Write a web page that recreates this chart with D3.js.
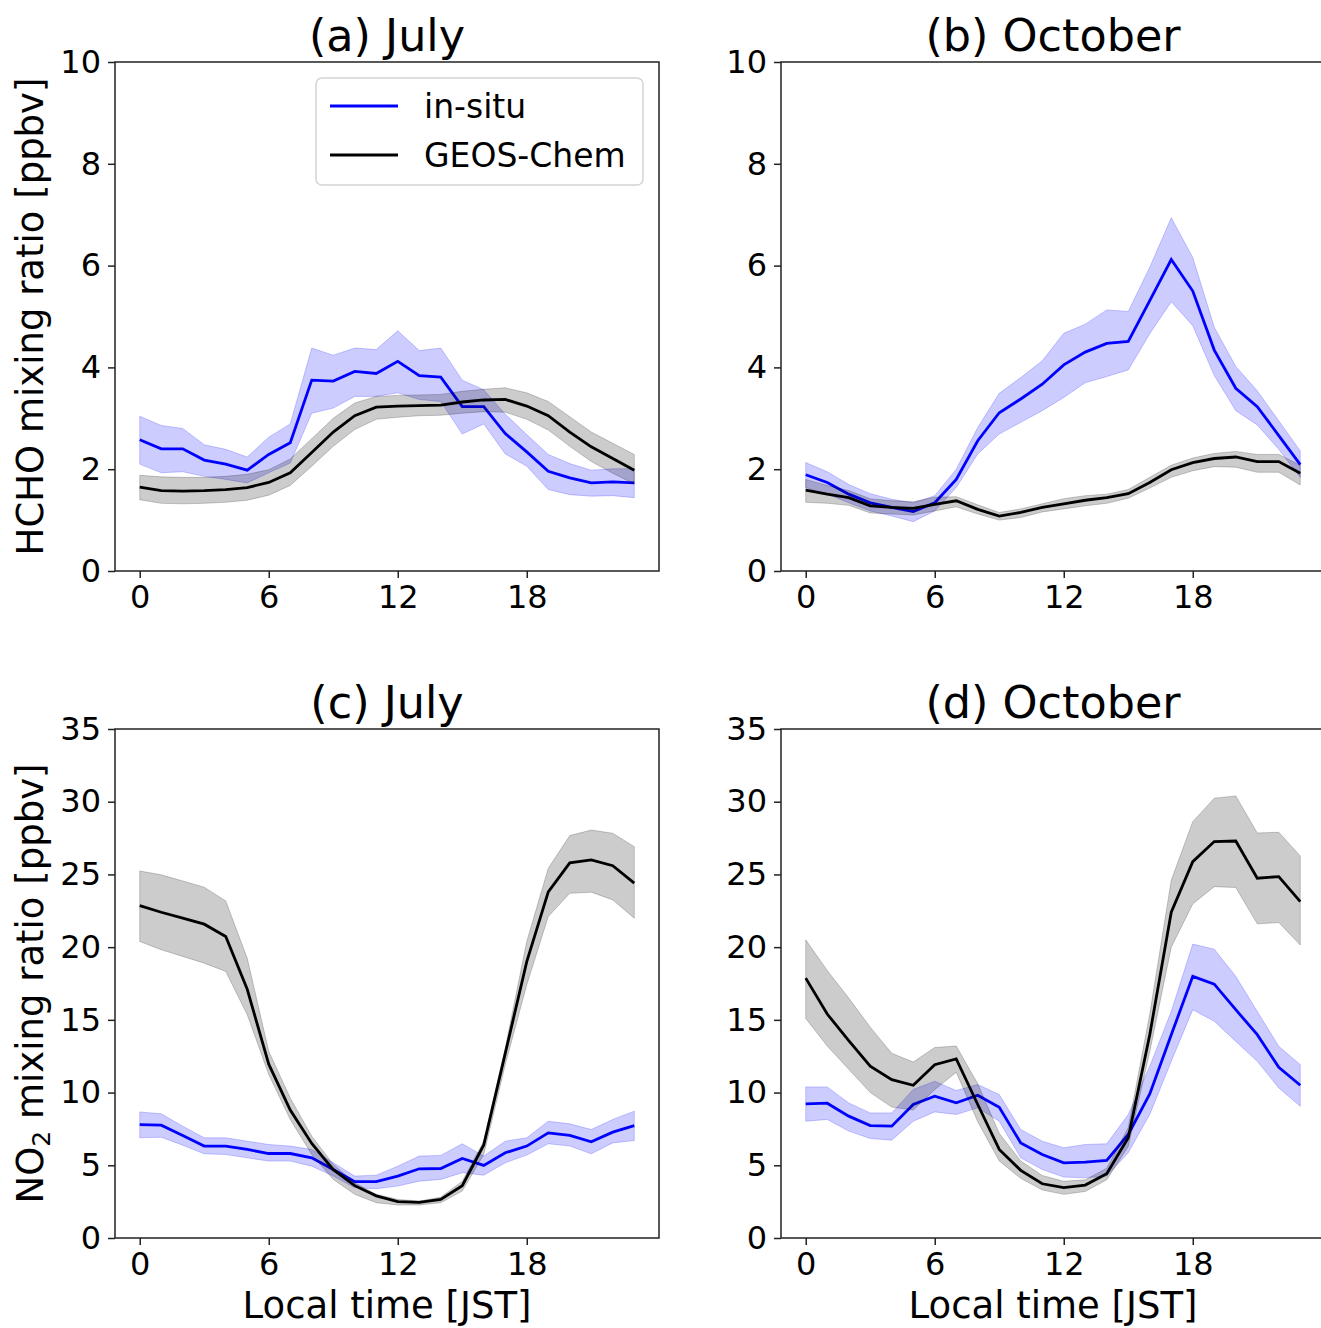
<!DOCTYPE html>
<html>
<head>
<meta charset="utf-8">
<script src="https://cdn.jsdelivr.net/npm/d3@7"></script>
<style>
body { margin: 0; background: white; }
svg { font-family: "DejaVu Sans", sans-serif; }
</style>
</head>
<body>
<div id="staticBody"></div>
<script>
var hours = d3.range(0, 24)

// (a) HCHO July
var aInsitu   = [2.58,2.40,2.40,2.18,2.10,1.98,2.29,2.52,3.75,3.73,3.92,3.88,4.12,3.84,3.81,3.23,3.23,2.70,2.34,1.96,1.83,1.73,1.75,1.73]
var aInsituHi = [3.04,2.86,2.80,2.48,2.39,2.24,2.63,2.89,4.38,4.24,4.38,4.35,4.72,4.33,4.38,3.75,3.56,3.08,2.68,2.29,2.11,1.98,2.01,2.01]
var aInsituLo = [2.10,1.93,1.95,1.86,1.80,1.73,1.93,2.12,3.10,3.20,3.43,3.43,3.50,3.37,3.33,2.69,2.89,2.30,2.06,1.60,1.50,1.47,1.48,1.44]
var aGeos     = [1.65,1.58,1.57,1.58,1.60,1.64,1.74,1.93,2.33,2.73,3.05,3.22,3.24,3.25,3.26,3.32,3.36,3.37,3.24,3.05,2.73,2.44,2.21,1.98]
var aGeosHi   = [1.88,1.85,1.84,1.84,1.86,1.90,1.99,2.20,2.60,3.00,3.30,3.43,3.45,3.46,3.47,3.53,3.57,3.60,3.50,3.33,3.03,2.73,2.51,2.29]
var aGeosLo   = [1.40,1.33,1.32,1.33,1.35,1.39,1.49,1.68,2.06,2.45,2.78,2.98,3.02,3.05,3.06,3.10,3.13,3.12,2.98,2.77,2.45,2.15,1.92,1.71]

// (b) HCHO October
var bInsitu   = [1.89,1.74,1.51,1.34,1.25,1.17,1.34,1.80,2.56,3.11,3.38,3.67,4.05,4.30,4.47,4.51,5.31,6.12,5.50,4.34,3.59,3.23,2.66,2.09]
var bInsituHi = [2.13,1.95,1.70,1.52,1.41,1.34,1.48,2.00,2.82,3.49,3.80,4.13,4.67,4.85,5.13,5.10,5.97,6.94,6.16,4.79,4.02,3.54,2.95,2.36]
var bInsituLo = [1.64,1.51,1.34,1.18,1.08,0.97,1.18,1.64,2.30,2.69,2.92,3.15,3.41,3.70,3.82,3.95,4.66,5.29,4.82,3.84,3.15,2.87,2.39,1.84]
var bGeos     = [1.59,1.51,1.44,1.28,1.25,1.23,1.31,1.38,1.21,1.08,1.15,1.25,1.32,1.39,1.44,1.52,1.74,1.99,2.13,2.21,2.24,2.15,2.15,1.92]
var bGeosHi   = [1.80,1.68,1.58,1.42,1.38,1.36,1.45,1.46,1.30,1.15,1.22,1.32,1.42,1.48,1.51,1.60,1.84,2.08,2.22,2.31,2.35,2.29,2.29,2.08]
var bGeosLo   = [1.35,1.33,1.29,1.14,1.12,1.10,1.18,1.26,1.12,1.00,1.05,1.16,1.22,1.28,1.33,1.43,1.63,1.84,1.97,2.05,2.04,1.94,1.94,1.69]

// (c) NO2 July
var cInsitu   = [7.80,7.76,7.05,6.32,6.32,6.09,5.81,5.81,5.51,4.71,3.87,3.87,4.26,4.76,4.78,5.47,4.99,5.86,6.32,7.23,7.05,6.61,7.28,7.73]
var cInsituHi = [8.67,8.54,7.69,6.89,6.89,6.66,6.43,6.32,6.09,5.17,4.26,4.32,4.94,5.63,5.68,6.48,5.63,6.66,6.89,8.03,7.85,7.46,8.15,8.72]
var cInsituLo = [6.89,6.93,6.38,5.79,5.74,5.51,5.29,5.29,4.94,4.26,3.46,3.39,3.57,3.91,4.03,4.49,4.32,5.17,5.70,6.48,6.32,5.79,6.54,6.70]
var cGeos     = [22.86,22.40,21.99,21.58,20.73,17.10,11.95,8.80,6.50,4.70,3.60,2.90,2.50,2.45,2.65,3.60,6.40,12.70,19.00,23.80,25.80,26.00,25.60,24.40]
var cGeosHi   = [25.24,24.97,24.55,24.12,23.18,19.24,12.84,9.63,7.00,5.06,3.80,3.00,2.65,2.54,2.81,3.90,6.66,13.07,20.39,25.42,27.67,28.05,27.83,26.91]
var cGeosLo   = [20.39,19.82,19.36,18.90,18.33,15.35,11.24,8.15,5.74,4.03,3.00,2.43,2.27,2.27,2.43,3.23,5.74,11.92,17.41,22.10,23.70,23.78,23.25,21.99]

// (d) NO2 October
var dInsitu   = [9.22,9.27,8.38,7.73,7.69,9.18,9.75,9.29,9.82,8.99,6.54,5.74,5.17,5.22,5.33,7.12,9.91,13.98,17.99,17.46,15.70,13.98,11.74,10.50]
var dInsituHi = [10.39,10.39,9.29,8.60,8.60,10.21,10.78,10.14,10.55,9.86,7.46,6.66,6.20,6.43,6.48,8.49,11.81,15.58,20.21,19.86,17.99,15.58,13.18,11.92]
var dInsituLo = [8.03,8.15,7.35,6.84,6.73,8.03,8.67,8.49,8.95,8.03,5.51,4.71,4.19,4.14,4.26,5.86,8.49,12.15,15.70,14.90,13.52,12.15,10.32,9.06]
var dGeos     = [17.87,15.40,13.57,11.81,10.89,10.50,11.92,12.31,9.18,6.09,4.65,3.73,3.46,3.64,4.42,6.89,13.98,22.40,25.88,27.26,27.30,24.74,24.85,23.13]
var dGeosHi   = [20.50,18.40,16.50,14.50,12.70,12.10,13.10,13.20,10.60,7.20,5.30,4.30,3.90,4.00,4.80,7.60,15.40,24.60,28.63,30.24,30.40,27.85,27.90,26.27]
var dGeosLo   = [15.10,13.20,11.60,10.00,9.00,8.80,10.20,11.40,8.00,5.30,4.10,3.30,3.00,3.20,4.00,6.30,12.80,20.00,22.97,24.16,24.10,21.60,21.69,20.15]

var xTicks = [0, 6, 12, 18]
var hchoTicks = [0, 2, 4, 6, 8, 10]
var no2Ticks = [0, 5, 10, 15, 20, 25, 30, 35]
var seriesNames = ["in-situ", "GEOS-Chem"]

var width = 1321, height = 1328
var svg = d3.select('#staticBody').append('svg')
    .attr('width', width)
    .attr('height', height)

svg.append('rect').attr('width', width).attr('height', height).attr('fill', 'white')

var panels = [
    { title: "(a) July",    left: 115, top: 62,  ymax: 10, ticks: hchoTicks, ins: aInsitu, insHi: aInsituHi, insLo: aInsituLo, geo: aGeos, geoHi: aGeosHi, geoLo: aGeosLo, legend: true },
    { title: "(b) October", left: 781, top: 62,  ymax: 10, ticks: hchoTicks, ins: bInsitu, insHi: bInsituHi, insLo: bInsituLo, geo: bGeos, geoHi: bGeosHi, geoLo: bGeosLo },
    { title: "(c) July",    left: 115, top: 729, ymax: 35, ticks: no2Ticks,  ins: cInsitu, insHi: cInsituHi, insLo: cInsituLo, geo: cGeos, geoHi: cGeosHi, geoLo: cGeosLo, xlabel: true },
    { title: "(d) October", left: 781, top: 729, ymax: 35, ticks: no2Ticks,  ins: dInsitu, insHi: dInsituHi, insLo: dInsituLo, geo: dGeos, geoHi: dGeosHi, geoLo: dGeosLo, xlabel: true }
]

var pw = 544, ph = 509

panels.forEach(function(p) {
    var g = svg.append('g').attr('transform', 'translate(' + p.left + ',' + p.top + ')')

    var x = d3.scaleLinear().domain([-1.15, 24.15]).range([0, pw])
    var y = d3.scaleLinear().domain([0, p.ymax]).range([ph, 0])

    var band = function(hi, lo) {
        return d3.area()
            .x(function(d, i) { return x(hours[i]) })
            .y0(function(d, i) { return y(lo[i]) })
            .y1(function(d, i) { return y(hi[i]) })(hours)
    }
    var line = function(vals) {
        return d3.line()
            .x(function(d, i) { return x(hours[i]) })
            .y(function(d) { return y(d) })(vals)
    }

    var plot = g.append('g')

    plot.append('path')
        .attr('d', band(p.insHi, p.insLo))
        .attr('fill', 'blue').attr('fill-opacity', 0.2)
        .attr('stroke', 'blue').attr('stroke-opacity', 0.2).attr('stroke-width', 1)
    plot.append('path')
        .attr('d', line(p.ins))
        .attr('fill', 'none').attr('stroke', 'blue').attr('stroke-width', 2.8)
    plot.append('path')
        .attr('d', band(p.geoHi, p.geoLo))
        .attr('fill', 'black').attr('fill-opacity', 0.2)
        .attr('stroke', 'black').attr('stroke-opacity', 0.2).attr('stroke-width', 1)
    plot.append('path')
        .attr('d', line(p.geo))
        .attr('fill', 'none').attr('stroke', 'black').attr('stroke-width', 2.8)

    // axes
    var yAxis = d3.axisLeft(y).tickValues(p.ticks).tickSize(7).tickPadding(7)
    var xAxis = d3.axisBottom(x).tickValues(xTicks).tickSize(7).tickPadding(7)

    var ya = g.append('g').call(yAxis)
    var xa = g.append('g').attr('transform', 'translate(0,' + ph + ')').call(xAxis)
    ;[ya, xa].forEach(function(a) {
        a.select('.domain').remove()
        a.selectAll('.tick line').attr('stroke', '#222').attr('stroke-width', 1.5)
        a.selectAll('.tick text').attr('fill', 'black').style('font-size', '32px')
            .style('font-family', '"DejaVu Sans", sans-serif')
    })

    g.append('rect')
        .attr('width', pw).attr('height', ph)
        .attr('fill', 'none').attr('stroke', '#222').attr('stroke-width', 1.5)

    g.append('text')
        .attr('x', pw / 2).attr('y', -11)
        .attr('text-anchor', 'middle')
        .style('font-size', '44.5px')
        .text(p.title)

    if (p.xlabel) {
        g.append('text')
            .attr('x', pw / 2).attr('y', ph + 80)
            .attr('text-anchor', 'middle')
            .style('font-size', '37px')
            .text("Local time [JST]")
    }

    if (p.legend) {
        var lg = g.append('g').attr('transform', 'translate(' + (316 - p.left) + ',' + (78 - p.top) + ')')
        lg.append('rect')
            .attr('width', 327).attr('height', 107).attr('rx', 6)
            .attr('fill', 'white').attr('fill-opacity', 0.8)
            .attr('stroke', '#d4d4d4').attr('stroke-width', 1.5)
        var colors = ['blue', 'black']
        seriesNames.forEach(function(name, i) {
            var yy = 28 + i * 49
            lg.append('line')
                .attr('x1', 14).attr('x2', 82).attr('y1', yy).attr('y2', yy)
                .attr('stroke', colors[i]).attr('stroke-width', 2.8)
            lg.append('text')
                .attr('x', 108).attr('y', yy).attr('dy', '0.36em')
                .style('font-size', '33px')
                .text(name)
        })
    }
})

// y labels
svg.append('text')
    .attr('transform', 'translate(43,' + (62 + ph / 2) + ') rotate(-90)')
    .attr('text-anchor', 'middle')
    .style('font-size', '37px')
    .text("HCHO mixing ratio [ppbv]")

var no2 = svg.append('text')
    .attr('transform', 'translate(43,' + (729 + ph / 2) + ') rotate(-90)')
    .attr('text-anchor', 'middle')
    .style('font-size', '37px')
no2.append('tspan').text("NO")
no2.append('tspan').attr('dy', 7).style('font-size', '25px').text("2")
no2.append('tspan').attr('dy', -7).text(" mixing ratio [ppbv]")
</script>
</body>
</html>
